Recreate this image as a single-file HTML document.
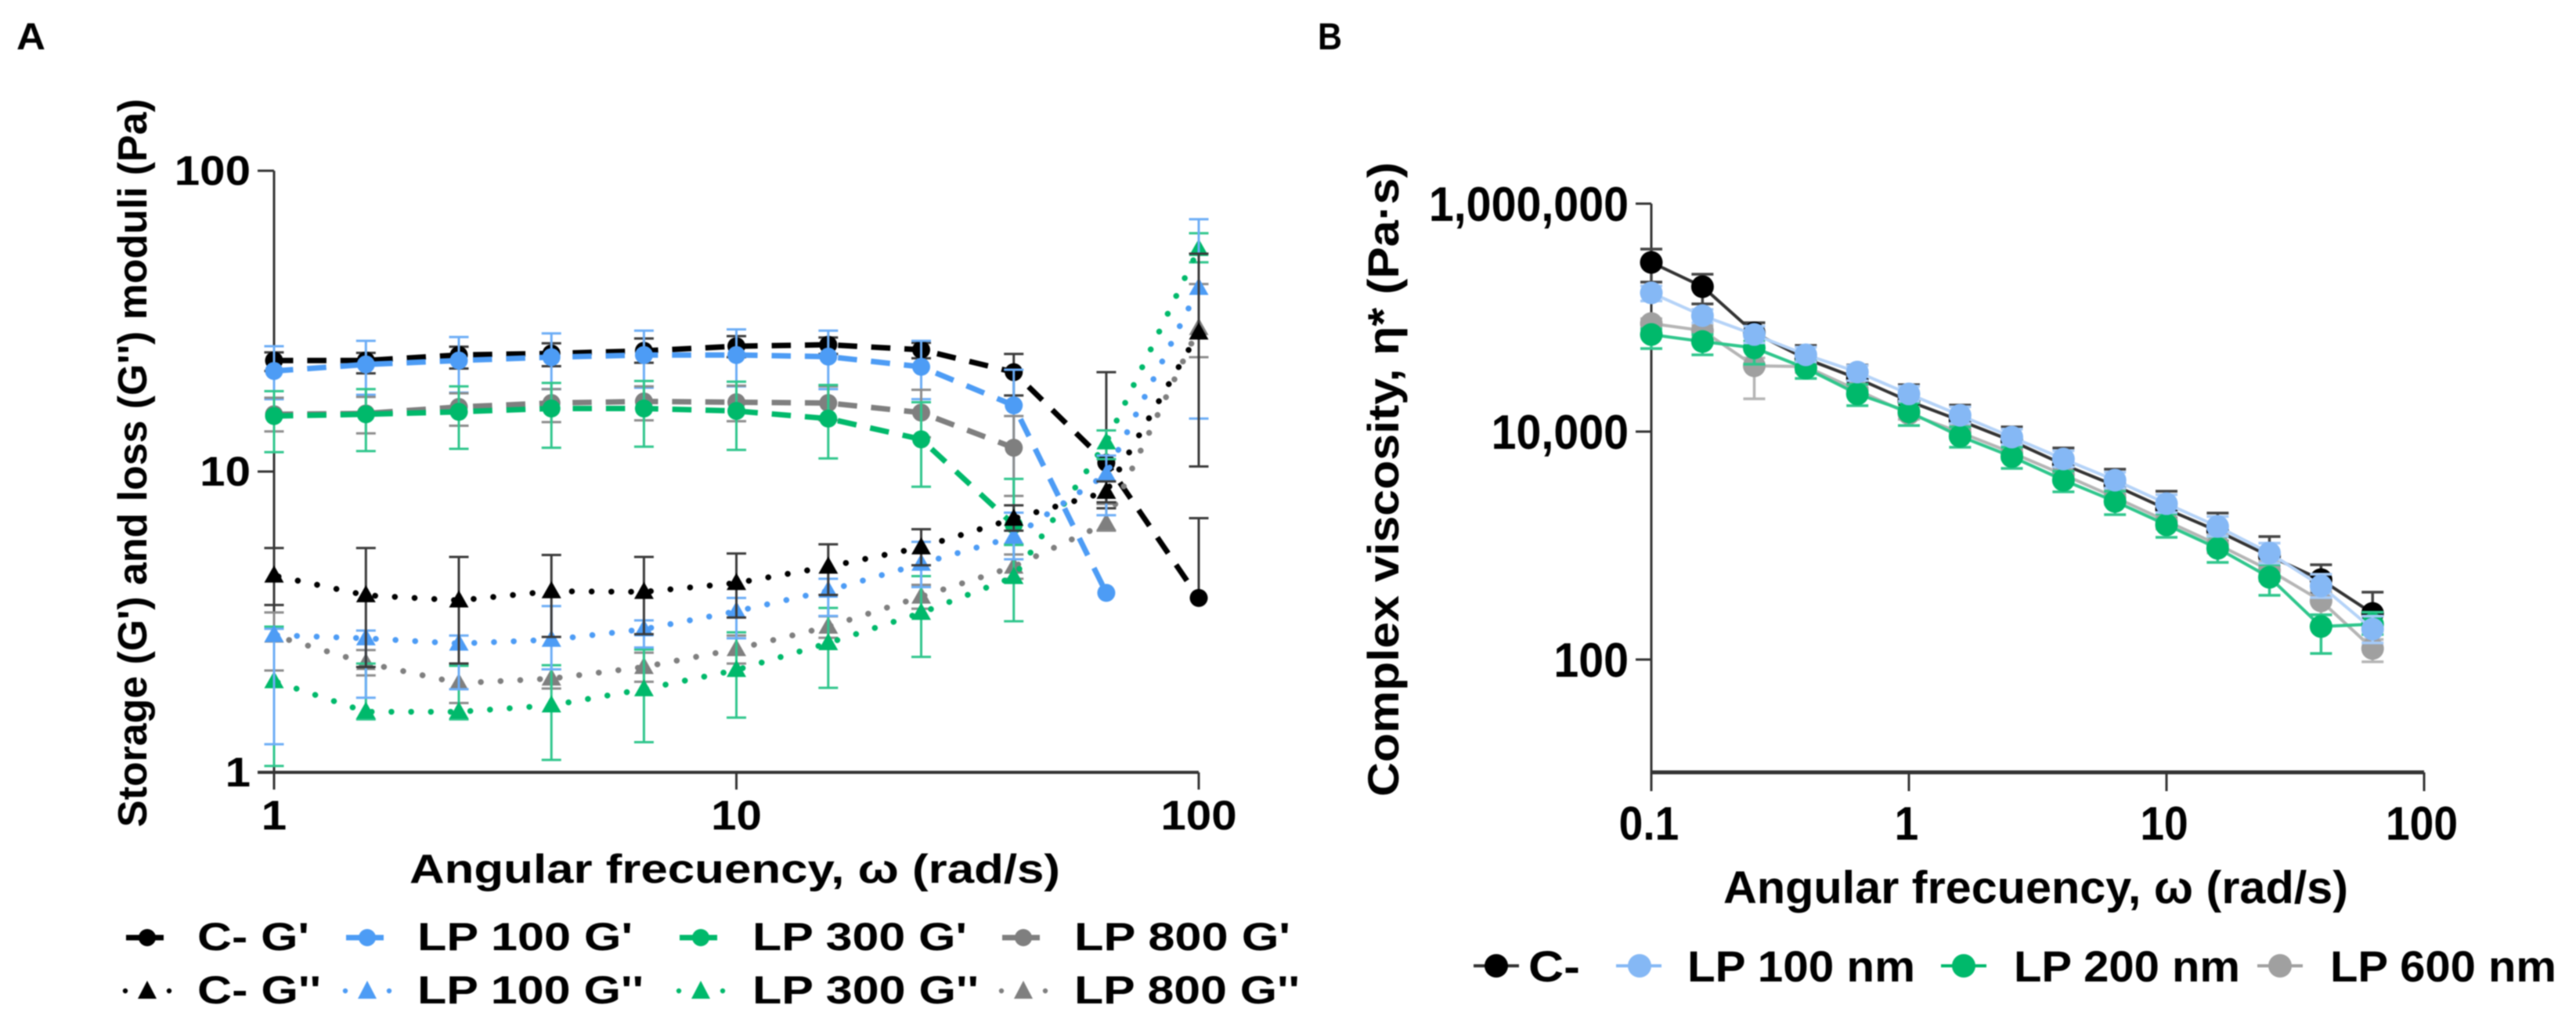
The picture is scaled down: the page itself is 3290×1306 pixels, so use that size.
<!DOCTYPE html>
<html lang="en">
<head>
<meta charset="utf-8">
<title>Rheology charts</title>
<style>
html,body{margin:0;padding:0;background:#fff;width:3290px;height:1306px;overflow:hidden}
svg{display:block;filter:blur(0.7px)}
text{font-family:"Liberation Sans",Arial,sans-serif;font-weight:700;fill:#000}
</style>
</head>
<body>
<svg id="figure" xmlns="http://www.w3.org/2000/svg" width="3290" height="1306" viewBox="0 0 3290 1306">
  <rect x="0" y="0" width="3290" height="1306" fill="#fff"/>
  <text x="21" y="63" font-size="48" textLength="37" lengthAdjust="spacingAndGlyphs">A</text>
  <text x="1683" y="63" font-size="48" textLength="31" lengthAdjust="spacingAndGlyphs">B</text>

  <g id="panelA"></g>
  <g id="panelB"></g>

  <text transform="translate(187,1056) rotate(-90)" font-size="52" textLength="930" lengthAdjust="spacingAndGlyphs">Storage (G') and loss (G'') moduli (Pa)</text>
  <text x="523" y="1127" font-size="52" textLength="831" lengthAdjust="spacingAndGlyphs">Angular frecuency, ω (rad/s)</text>
  <text transform="translate(1786,1017) rotate(-90)" font-size="56" textLength="810" lengthAdjust="spacingAndGlyphs">Complex viscosity, η* (Pa·s)</text>
  <text x="2201" y="1153" font-size="58" textLength="798" lengthAdjust="spacingAndGlyphs">Angular frecuency, ω (rad/s)</text>

  <g font-size="50">
    <g>
      <line x1="158" y1="1197" x2="218" y2="1197" stroke="#000" stroke-width="7" stroke-dasharray="18 12" stroke-dashoffset="-3"/><circle cx="188" cy="1197" r="11" fill="#000"/>
      <text x="252" y="1213" textLength="143" lengthAdjust="spacingAndGlyphs">C- G'</text>
    </g>
    <g>
      <line x1="439" y1="1197" x2="499" y2="1197" stroke="#4d9cf5" stroke-width="7" stroke-dasharray="18 12" stroke-dashoffset="-3"/><circle cx="469" cy="1197" r="11" fill="#4d9cf5"/>
      <text x="533" y="1213" textLength="275" lengthAdjust="spacingAndGlyphs">LP 100 G'</text>
    </g>
    <g>
      <line x1="865" y1="1197" x2="925" y2="1197" stroke="#00b96b" stroke-width="7" stroke-dasharray="18 12" stroke-dashoffset="-3"/><circle cx="895" cy="1197" r="11" fill="#00b96b"/>
      <text x="961" y="1213" textLength="274" lengthAdjust="spacingAndGlyphs">LP 300 G'</text>
    </g>
    <g>
      <line x1="1277" y1="1197" x2="1337" y2="1197" stroke="#7f7f7f" stroke-width="7" stroke-dasharray="18 12" stroke-dashoffset="-3"/><circle cx="1307" cy="1197" r="11" fill="#7f7f7f"/>
      <text x="1372" y="1213" textLength="276" lengthAdjust="spacingAndGlyphs">LP 800 G'</text>
    </g>
    <g>
      <circle cx="160" cy="1265" r="3.2" fill="#000"/><circle cx="216" cy="1265" r="3.2" fill="#000"/><polygon points="188,1252 200,1275 176,1275" fill="#000"/>
      <text x="252" y="1281" textLength="158" lengthAdjust="spacingAndGlyphs">C- G''</text>
    </g>
    <g>
      <circle cx="441" cy="1265" r="3.2" fill="#4d9cf5"/><circle cx="497" cy="1265" r="3.2" fill="#4d9cf5"/><polygon points="469,1252 481,1275 457,1275" fill="#4d9cf5"/>
      <text x="533" y="1281" textLength="289" lengthAdjust="spacingAndGlyphs">LP 100 G''</text>
    </g>
    <g>
      <circle cx="867" cy="1265" r="3.2" fill="#00b96b"/><circle cx="923" cy="1265" r="3.2" fill="#00b96b"/><polygon points="895,1252 907,1275 883,1275" fill="#00b96b"/>
      <text x="961" y="1281" textLength="289" lengthAdjust="spacingAndGlyphs">LP 300 G''</text>
    </g>
    <g>
      <circle cx="1279" cy="1265" r="3.2" fill="#7f7f7f"/><circle cx="1335" cy="1265" r="3.2" fill="#7f7f7f"/><polygon points="1307,1252 1319,1275 1295,1275" fill="#7f7f7f"/>
      <text x="1372" y="1281" textLength="288" lengthAdjust="spacingAndGlyphs">LP 800 G''</text>
    </g>
  </g>

  <g font-size="56">
    <g>
      <line x1="1882" y1="1233" x2="1940" y2="1233" stroke="#333" stroke-width="4"/><circle cx="1911" cy="1233" r="15" fill="#000"/>
      <text x="1952" y="1253" textLength="66" lengthAdjust="spacingAndGlyphs">C-</text>
    </g>
    <g>
      <line x1="2064" y1="1233" x2="2122" y2="1233" stroke="#85b8f5" stroke-width="4"/><circle cx="2094" cy="1233" r="15" fill="#85b8f5"/>
      <text x="2155" y="1253" textLength="291" lengthAdjust="spacingAndGlyphs">LP 100 nm</text>
    </g>
    <g>
      <line x1="2479" y1="1233" x2="2537" y2="1233" stroke="#00b96b" stroke-width="4"/><circle cx="2508" cy="1233" r="15" fill="#00b96b"/>
      <text x="2572" y="1253" textLength="289" lengthAdjust="spacingAndGlyphs">LP 200 nm</text>
    </g>
    <g>
      <line x1="2883" y1="1233" x2="2941" y2="1233" stroke="#a0a0a0" stroke-width="4"/><circle cx="2912" cy="1233" r="15" fill="#a0a0a0"/>
      <text x="2976" y="1253" textLength="289" lengthAdjust="spacingAndGlyphs">LP 600 nm</text>
    </g>
  </g>
</svg>

<script>
// ---------- Panel A data ----------
const freqA = [1, 1.58, 2.51, 3.98, 6.31, 10, 15.8, 25.1, 39.8, 63.1, 100];
const xTicksA = [1, 10, 100];
const yTicksA = [1, 10, 100];
const xTickLabelsA = ['1', '10', '100'];
const yTickLabelsA = ['1', '10', '100'];

const cGp     = [23.4, 23.4, 24.4, 24.7, 25.2, 26.1, 26.4, 25.4, 21.4, 10.7, 3.8];
const cGpHi   = [24.9, 24.8, 26, 26.7, 27.7, 28.2, 27.9, 26.8, 24.6, 21.4, 7];
const cGpLo   = [21.6, 21.2, 22, 22.4, 23, 24, 24.6, 23.8, 17.9, 7.55, null];

const lp100Gp   = [21.6, 22.7, 23.4, 24, 24.4, 24.4, 24.1, 22.3, 16.6, 3.95, null];
const lp100GpHi = [26.1, 27.2, 28, 28.8, 29.4, 29.7, 29.4, 27.2, 21.8, null, null];
const lp100GpLo = [17.4, 18, 18.3, 18.8, 19, 19.2, 18.8, 17.4, 7.3, null, null];

const lp800Gp   = [15.5, 15.6, 16.4, 16.9, 17.1, 17, 16.9, 15.7, 12, null, null];
const lp800GpHi = [17.6, 17.7, 18.2, 18.8, 19.2, 19.3, 19.2, 18.7, 15.3, null, null];
const lp800GpLo = [13.6, 13.4, 14.2, 14.6, 14.8, 14.7, 14.8, 13, 8.3, null, null];

const lp300Gp   = [15.3, 15.5, 15.8, 16.2, 16.2, 15.9, 15, 12.8, 6.65, null, null];
const lp300GpHi = [18.5, 18.8, 19.2, 19.7, 20, 19.9, 19.4, 17, 9.45, null, null];
const lp300GpLo = [11.6, 11.7, 11.9, 12, 12.1, 11.8, 11.06, 8.9, 5.7, null, null];

const lp800Gpp   = [2.85, 2.31, 1.98, 2.05, 2.24, 2.57, 3.05, 3.84, 4.83, 6.73, 30];
const lp800GppHi = [3.4, 2.55, 2.3, 2.2, 2.5, 2.85, 3.3, 4.2, 5.3, 7.8, 42];
const lp800GppLo = [2.18, 2.1, 1.7, 1.9, 2, 2.3, 2.8, 3.5, 4.4, 6.36, 24];

const lp300Gpp   = [2.01, 1.59, 1.59, 1.67, 1.89, 2.19, 2.69, 3.39, 4.46, 12.5, 55];
const lp300GppHi = [3.05, 2.3, 2.26, 2.27, 2.56, 2.92, 3.52, 4.49, 5.73, 13.7, 62];
const lp300GppLo = [1.05, 1.5, 1.5, 1.1, 1.26, 1.52, 1.91, 2.42, 3.18, 11, 49.6];

const lp100Gpp   = [2.86, 2.79, 2.68, 2.76, 2.99, 3.43, 4.02, 4.94, 6.07, 9.8, 40.8];
const lp100GppHi = [3, 2.96, 2.85, 3.57, 3.2, 3.8, 4.4, 5.84, 7.3, 11.3, 69];
const lp100GppLo = [1.24, 1.77, 1.89, 2.2, 2.6, 2.79, 3.31, 4.13, 5.11, 7.16, 15];

const cGpp   = [4.51, 3.88, 3.73, 4, 3.98, 4.26, 4.83, 5.6, 6.97, 8.56, 29];
const cGppHi = [5.57, 5.57, 5.2, 5.28, 5.2, 5.34, 5.73, 6.43, 7.72, 9.27, 53];
const cGppLo = [3.6, 2.24, 2.3, 2.82, 2.88, 3.27, 3.89, 4.88, 6.36, 7.9, 10.4];

// ---------- Panel B data ----------
const freqB = [0.1, 0.158, 0.251, 0.398, 0.631, 1, 1.58, 2.51, 3.98, 6.31, 10, 15.8, 25.1, 39.8, 63.1];
const xTicksB = [0.1, 1, 10, 100];
const yTicksB = [100, 10000, 1000000];
const xTickLabelsB = ['0.1', '1', '10', '100'];
const yTickLabelsB = ['100', '10,000', '1,000,000'];

const cEta   = [305000, 187000, 73400, 43600, 29300, 18500, 12500, 8280, 5140, 3360, 2090, 1340, 807, 502, 254];
const cEtaHi = [399000, 240000, 90200, 57000, 38400, 25800, 17100, 11000, 7180, 4680, 3000, 1930, 1200, 679, 390];
const cEtaLo = [205000, 132000, 72000, 38000, 24000, 15000, 10500, 7000, 4400, 2800, 1750, 1100, 650, 380, 180];

const lp600Eta   = [88800, 77000, 37800, 37200, 23100, 14400, 9840, 6520, 4190, 2650, 1640, 1020, 608, 327, 125];
const lp600EtaHi = [98000, 85000, 44300, 40000, 26000, 16500, 11500, 7600, 4900, 3100, 1950, 1250, 730, 400, 150];
const lp600EtaLo = [78000, 68000, 19400, 33000, 20500, 12800, 8700, 5700, 3700, 2300, 1400, 860, 490, 247, 95.5];

const lp200Eta   = [71100, 61700, 54300, 36000, 21400, 14900, 9100, 6030, 3750, 2440, 1520, 946, 527, 195, 204];
const lp200EtaHi = [80000, 71000, 62000, 42000, 26000, 17800, 11000, 7300, 4500, 3000, 1900, 1200, 680, 247, 260];
const lp200EtaLo = [53500, 47200, 39000, 29300, 16900, 11300, 7290, 4750, 2960, 1870, 1180, 711, 366, 113, 166];

const lp100Eta   = [165000, 104000, 71100, 47200, 33300, 21400, 13900, 8950, 5750, 3750, 2330, 1470, 861, 443, 185];
const lp100EtaHi = [190000, 118000, 84000, 55000, 38000, 25000, 16500, 10500, 6800, 4400, 2800, 1800, 1050, 560, 240];
const lp100EtaLo = [140000, 90000, 60000, 41000, 28000, 18500, 11800, 7700, 4900, 3200, 1950, 1210, 700, 350, 140];

// ---------- Axis functions ----------
const NS = 'http://www.w3.org/2000/svg';
const xA = v => 350 + (Math.log10(v) - 0) * 590.5;
const yA = v => 986 - (Math.log10(v) - 0) * 384;
const xB = v => 2109 + (Math.log10(v) + 1) * 329;
const yB = v => 842 - (Math.log10(v) - 2) * 145.5;

function el(parent, tag, attrs) {
  const node = document.createElementNS(NS, tag);
  for (const k in attrs) node.setAttribute(k, attrs[k]);
  parent.appendChild(node);
  return node;
}
function pointsPath(xs, ys, xf, yf) {
  const seg = [];
  for (let i = 0; i < xs.length; i++) {
    if (ys[i] === null) continue;
    seg.push((seg.length ? 'L' : 'M') + xf(xs[i]).toFixed(1) + ' ' + yf(ys[i]).toFixed(1));
  }
  return seg.join(' ');
}
function drawErrors(g, xs, ys, hi, lo, xf, yf, color, sw, capHalf) {
  for (let i = 0; i < xs.length; i++) {
    if (ys[i] === null) continue;
    const x = xf(xs[i]);
    const ends = [hi[i], lo[i]];
    for (let j = 0; j < 2; j++) {
      if (ends[j] === null) continue;
      const stem = el(g, 'line', {x1: x, x2: x, y1: yf(ys[i]), y2: yf(ends[j]), stroke: color, 'stroke-width': sw});
      
      
      const cap = el(g, 'line', {x1: x - capHalf, x2: x + capHalf, y1: yf(ends[j]), y2: yf(ends[j]), stroke: color, 'stroke-width': sw});
      
      
    }
  }
}
function drawAxisLine(g, x1, y1, x2, y2, w) {
  const a = el(g, 'line', {x1, y1, x2, y2, stroke: '#333', 'stroke-width': w});
  
  
}
function drawTickLabel(g, text, x, y, size, sx, anchor) {
  const t = el(g, 'text', {transform: 'translate(' + x + ',' + y + ') scale(' + sx + ',1)', 'font-size': size, 'text-anchor': anchor});
  t.textContent = text;
  
  
}

// ---------- Panel A ----------
const gA = document.getElementById('panelA');
const BLACK = '#000', BLUE = '#4d9cf5', GREEN = '#00b96b', GREY = '#7f7f7f';
const errColA = {[BLACK]: '#3a3a3a', [BLUE]: '#6cadf6', [GREEN]: '#2fc68c', [GREY]: '#8c8c8c'};

drawAxisLine(gA, xA(1), yA(100), xA(1), 1008, 3);
drawAxisLine(gA, 329, yA(1), xA(100), yA(1), 4);
yTicksA.forEach((v, i) => {
  drawAxisLine(gA, 329, yA(v), xA(1), yA(v), 3);
  drawTickLabel(gA, yTickLabelsA[i], 320, yA(v) + 18, 53, 1.1, 'end');
});
xTicksA.forEach((v, i) => {
  drawAxisLine(gA, xA(v), yA(1), xA(v), 1008, 3);
  drawTickLabel(gA, xTickLabelsA[i], xA(v), 1059, 53, 1.1, 'middle');
});

function drawSeriesA(name, ys, hi, lo, color, kind, phase) {
  const g = el(gA, 'g', {});
  
  
  drawErrors(g, freqA, ys, hi, lo, xA, yA, errColA[color], 3, 12.5);
  const line = el(g, 'path', {
    d: pointsPath(freqA, ys, xA, yA), fill: 'none', stroke: color,
    'stroke-width': kind === 'dash' ? 7 : 7.5,
    'stroke-linecap': kind === 'dash' ? 'butt' : 'round',
    'stroke-dasharray': kind === 'dash' ? '24.5 17.9' : '0.1 25.1',
    'stroke-dashoffset': -phase
  });
  
  
  for (let i = 0; i < freqA.length; i++) {
    if (ys[i] === null) continue;
    const x = xA(freqA[i]), y = yA(ys[i]);
    if (kind === 'dash') {
      const c = el(g, 'circle', {cx: x, cy: y, r: 11.5, fill: color});
      
      
    } else {
      const p = el(g, 'polygon', {
        points: x + ',' + (y - 13) + ' ' + (x + 12.5) + ',' + (y + 9) + ' ' + (x - 12.5) + ',' + (y + 9),
        fill: color
      });
      
      
    }
  }
}
drawSeriesA('c-g-prime', cGp, cGpHi, cGpLo, BLACK, 'dash', 0);
drawSeriesA('lp100-g-prime', lp100Gp, lp100GpHi, lp100GpLo, BLUE, 'dash', 0);
drawSeriesA('lp800-g-prime', lp800Gp, lp800GpHi, lp800GpLo, GREY, 'dash', 0);
drawSeriesA('lp300-g-prime', lp300Gp, lp300GpHi, lp300GpLo, GREEN, 'dash', 0);
drawSeriesA('lp800-g-double-prime', lp800Gpp, lp800GppHi, lp800GppLo, GREY, 'dot', 20);
drawSeriesA('lp300-g-double-prime', lp300Gpp, lp300GppHi, lp300GppLo, GREEN, 'dot', 5);
drawSeriesA('lp100-g-double-prime', lp100Gpp, lp100GppHi, lp100GppLo, BLUE, 'dot', 4);
drawSeriesA('c-g-double-prime', cGpp, cGppHi, cGppLo, BLACK, 'dot', 5.8);

// ---------- Panel B ----------
const gB = document.getElementById('panelB');
drawAxisLine(gB, xB(0.1), yB(1000000), xB(0.1), 1010, 3);
drawAxisLine(gB, xB(0.1), 986, xB(100), 986, 5);
yTicksB.forEach((v, i) => {
  drawAxisLine(gB, 2089, yB(v), xB(0.1), yB(v), 3);
  drawTickLabel(gB, yTickLabelsB[i], 2080, yB(v) + 22, 62, 0.925, 'end');
});
xTicksB.forEach((v, i) => {
  drawAxisLine(gB, xB(v), 986, xB(v), 1010, 3);
  drawTickLabel(gB, xTickLabelsB[i], xB(v) - 3, 1072, 60, 0.92, 'middle');
});

function drawSeriesB(name, ys, hi, lo, color, errColor, lineColor) {
  const g = el(gB, 'g', {});
  
  
  drawErrors(g, freqB, ys, hi, lo, xB, yB, errColor, 3.5, 14);
  const line = el(g, 'path', {d: pointsPath(freqB, ys, xB, yB), fill: 'none', stroke: lineColor, 'stroke-width': 4});
  
  
  for (let i = 0; i < freqB.length; i++) {
    const c = el(g, 'circle', {cx: xB(freqB[i]), cy: yB(ys[i]), r: 14.5, fill: color});
    
    
  }
}
drawSeriesB('c-minus', cEta, cEtaHi, cEtaLo, '#000', '#444', '#333');
drawSeriesB('lp-600-nm', lp600Eta, lp600EtaHi, lp600EtaLo, '#a0a0a0', '#b5b5b5', '#b5b5b5');
drawSeriesB('lp-200-nm', lp200Eta, lp200EtaHi, lp200EtaLo, '#00b96b', '#2fc68c', '#2fc68c');
drawSeriesB('lp-100-nm', lp100Eta, lp100EtaHi, lp100EtaLo, '#85b8f5', '#a5caf7', '#b5d3f8');
</script>
</body>
</html>
